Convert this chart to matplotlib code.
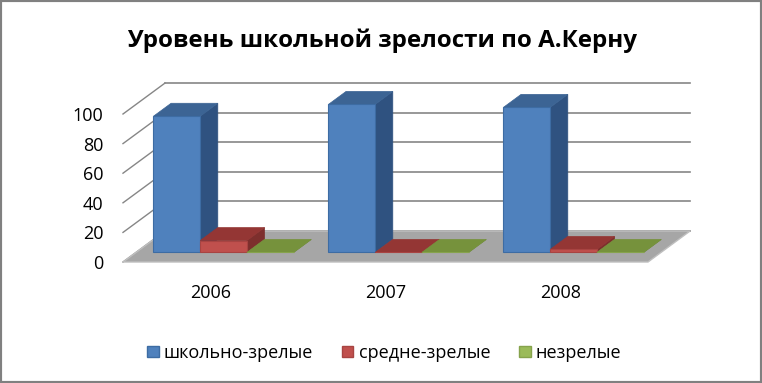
import matplotlib
matplotlib.use("Agg")
import matplotlib.pyplot as plt
from matplotlib.patches import Polygon, Patch, Rectangle

# данные (по картинке)
years = ['2006', '2007', '2008']
series_names = ['школьно-зрелые', 'средне-зрелые', 'незрелые']
mature = [92, 100, 98]
middle = [8, 0, 2]
immature = [0, 0, 0]
yticks = [0, 20, 40, 60, 80, 100]

# цвета: передняя грань, верх, бок
front_colors = ['#4f81bd', '#c0504d', '#9bbb59']
top_colors = ['#3c6494', '#943634', '#76923c']
side_colors = ['#2f5280', '#7d2f2d', '#65803a']
edge_colors = ['#3d6ca3', '#a84442', '#86a34c']

# псевдо-3D: смещение по глубине (в единицах осей)
DX = 0.24     # по категориям
DY = 20.9     # по значениям
Z0, Z1 = 0.31, 0.73   # глубина передней/задней грани столбиков
W = 0.267     # ширина столбика

plt.rcParams['font.family'] = ['Open Sans', 'DejaVu Sans']

W_PX, H_PX = 762, 383
fig = plt.figure(figsize=(W_PX / 100, H_PX / 100), dpi=100)
fig.patch.set_facecolor('white')
fig.patches.append(Rectangle((0, 0), 1, 1, transform=fig.transFigure,
                             facecolor='none', edgecolor='#808080', lw=3))

ax = fig.add_axes([123 / W_PX, 121 / H_PX, 525 / W_PX, 148 / H_PX])
ax.set_xlim(-0.5, 2.5)
ax.set_ylim(0, 100)
for s in ax.spines.values():
    s.set_visible(False)
ax.set_facecolor('none')

# стенки: линии сетки
grid_c = '#868686'
for v in yticks:
    ax.plot([-0.5 + DX, 2.5 + DX], [v + DY, v + DY], color=grid_c, lw=1.2,
            clip_on=False, zorder=1)
    ax.plot([-0.5, -0.5 + DX], [v, v + DY], color=grid_c, lw=1.0,
            clip_on=False, zorder=1)

# пол
floor = Polygon([(-0.5, 0), (2.5, 0), (2.5 + DX, DY), (-0.5 + DX, DY)],
                closed=True, facecolor='#a6a6a6', edgecolor='#bfbfbf', lw=1,
                clip_on=False, zorder=2)
ax.add_patch(floor)

# столбики
data = [mature, middle, immature]
dz = Z1 - Z0
base = Z0 * DY
for j, vals in enumerate(data):
    zo = 3 + j
    lefts = [i + Z0 * DX - 1.5 * W + j * W for i in range(len(years))]
    for xl, v in zip(lefts, vals):
        top = base + v
        side = Polygon([(xl + W, base), (xl + W + dz * DX, base + dz * DY),
                        (xl + W + dz * DX, top + dz * DY), (xl + W, top)],
                       closed=True, facecolor=side_colors[j],
                       edgecolor=side_colors[j], lw=0.5, clip_on=False, zorder=zo)
        lid = Polygon([(xl, top), (xl + W, top), (xl + W + dz * DX, top + dz * DY),
                       (xl + dz * DX, top + dz * DY)],
                      closed=True, facecolor=top_colors[j],
                      edgecolor=top_colors[j], lw=0.5, clip_on=False, zorder=zo)
        ax.add_patch(side)
        ax.add_patch(lid)
    ax.bar(lefts, vals, width=W, bottom=base, align='edge',
           color=front_colors[j], edgecolor=edge_colors[j], lw=0.8,
           clip_on=False, zorder=zo + 0.5)

# подписи осей
ax.set_yticks(yticks)
ax.set_yticklabels([str(v) for v in yticks], fontsize=13)
ax.set_xticks(range(len(years)))
ax.set_xticklabels(years, fontsize=13)
ax.tick_params(axis='y', length=0, pad=14)
ax.tick_params(axis='x', length=0, pad=16)

fig.text(382 / W_PX, 1 - 41 / H_PX, 'Уровень школьной зрелости по А.Керну',
         ha='center', va='center', fontsize=17.4, fontweight='bold')

handles = [Patch(facecolor=front_colors[j], edgecolor=edge_colors[j])
           for j in range(3)]
fig.legend(handles, series_names, loc='center',
           bbox_to_anchor=(384.5 / W_PX, 30 / H_PX), ncol=3, frameon=False,
           fontsize=13, handlelength=0.62, handleheight=0.62,
           handletextpad=0.3, columnspacing=1.6)

fig.savefig('out.png', dpi=100, facecolor='white')
